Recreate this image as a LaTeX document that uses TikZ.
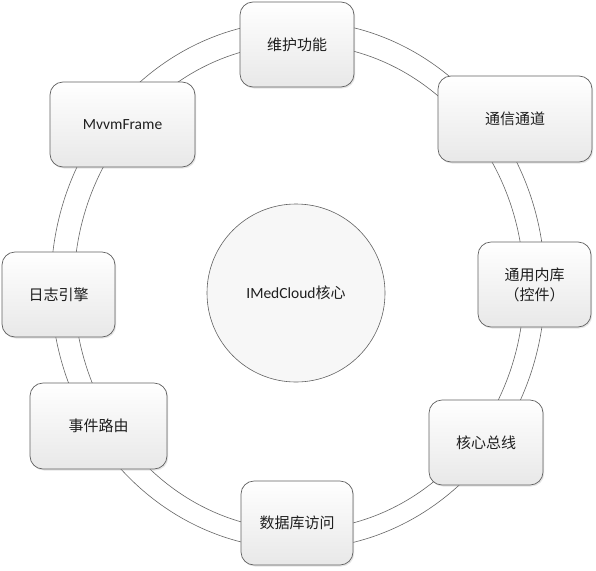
\documentclass[tikz,border=0pt]{standalone}
\usepackage{fontspec}
\setmainfont{Carlito}
\newfontfamily\cjk{Noto Sans CJK SC}
\usetikzlibrary{shadows}
\begin{document}
\begin{tikzpicture}[x=1pt,y=-1pt,
  ringline/.style={draw=black!60, line width=0.6pt},
  boxnode/.style={draw=black!62, line width=0.7pt, rounded corners=13pt,
    top color=white, bottom color=black!9,
    drop shadow={shadow xshift=1.2pt, shadow yshift=-1.5pt, opacity=0.25, fill=black!40},
    align=center, inner sep=0pt, text=black!88,
    font=\cjk\fontsize{15}{20}\selectfont},
  corenode/.style={circle, draw=black!62, line width=0.6pt,
    fill=black!3,
    inner sep=0pt, minimum size=178pt, text=black!88,
    font=\fontsize{15.5}{20}\selectfont}
]
\useasboundingbox (0,0) rectangle (596,570);
\fill[white] (0,0) rectangle (596,570);
% ring
\draw[ringline] (298,285) ellipse [x radius=247pt, y radius=264pt];
\draw[ringline] (299,287) ellipse [x radius=225pt, y radius=243pt];
% boxes
\node[boxnode, minimum width=114pt, minimum height=85pt] (top) at (297,44.5) {维护功能};
\node[boxnode, minimum width=145pt, minimum height=85pt, font=\fontsize{15.5}{20}\selectfont] (mvvm) at (122.5,124.5) {MvvmFrame};
\node[boxnode, minimum width=154pt, minimum height=86pt] (comm) at (515,119) {通信通道};
\node[boxnode, minimum width=113pt, minimum height=85pt] (log) at (58.5,294.5) {日志引擎};
\node[boxnode, minimum width=113pt, minimum height=85pt] (lib) at (534.5,284.5) {通用内库\\（控件）};
\node[boxnode, minimum width=137pt, minimum height=86pt] (event) at (98.5,426) {事件路由};
\node[boxnode, minimum width=112pt, minimum height=84pt] (db) at (297,523) {数据库访问};
\node[boxnode, minimum width=114pt, minimum height=85pt] (bus) at (486,442.5) {核心总线};
% core
\node[corenode] (core) at (296,293) {IMedCloud{\cjk\fontsize{15}{20}\selectfont 核心}};
\end{tikzpicture}
\end{document}
